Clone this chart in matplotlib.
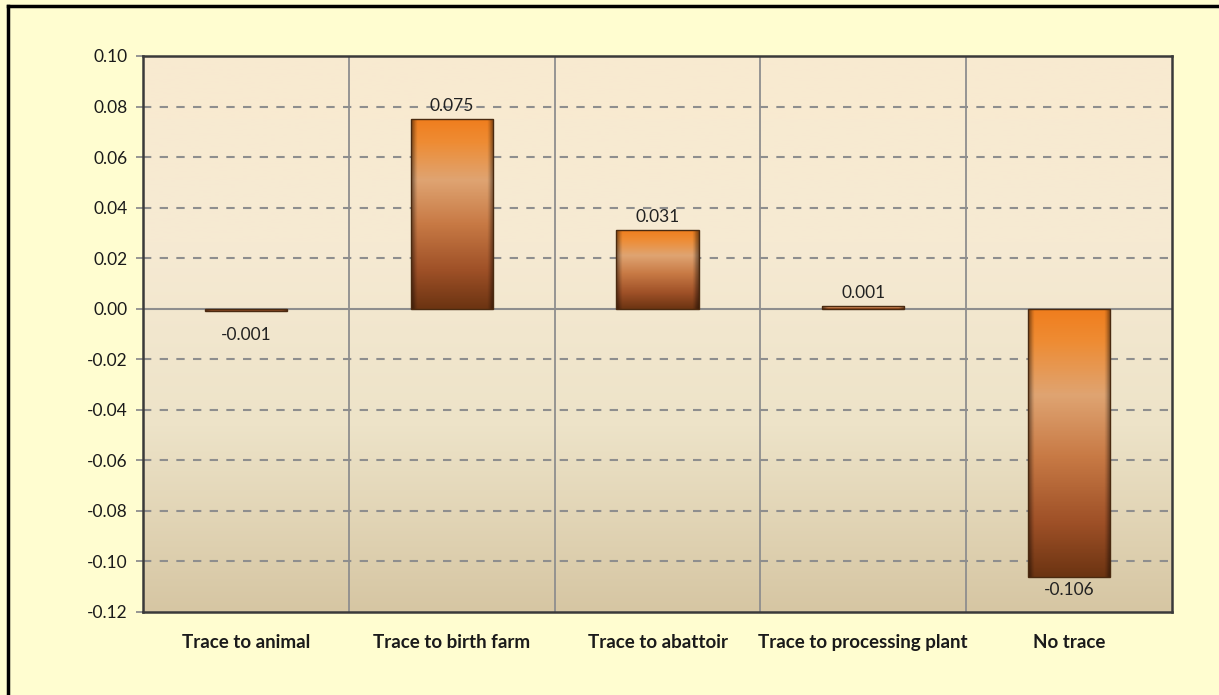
import numpy as np
import matplotlib
matplotlib.use("Agg")
import matplotlib.pyplot as plt
from matplotlib.colors import LinearSegmentedColormap
from matplotlib.lines import Line2D

categories = ["Trace to animal", "Trace to birth farm", "Trace to abattoir",
              "Trace to processing plant", "No trace"]
values = [-0.001, 0.075, 0.031, 0.001, -0.106]
value_labels = ["-0.001", "0.075", "0.031", "0.001", "-0.106"]
yticks = [-0.12, -0.10, -0.08, -0.06, -0.04, -0.02, 0.00, 0.02, 0.04, 0.06, 0.08, 0.10]

plt.rcParams['font.family'] = ['Lato', 'DejaVu Sans']

fig = plt.figure(figsize=(12.19, 6.95), dpi=100)
fig.patch.set_facecolor("#FFFDD0")
ax = fig.add_axes([143/1219, 1 - 612/695, (1172 - 143)/1219, (612 - 56)/695])
ax.set_facecolor("none")

# figure border (top & left visible)
fig.add_artist(Line2D([8/1219, 8/1219], [0, 1 - 6/695], transform=fig.transFigure,
                      color="black", lw=2.5))
fig.add_artist(Line2D([8/1219, 1], [1 - 6/695, 1 - 6/695], transform=fig.transFigure,
                      color="black", lw=2.5))

# axes background gradient
bg = LinearSegmentedColormap.from_list("bg", ["#D6C6A3", "#EDE3C8", "#F6EAD3", "#F9EAD0"])
grad = np.linspace(0, 1, 256).reshape(-1, 1)
ax.imshow(grad, extent=[0, 1, 0, 1], transform=ax.transAxes, cmap=bg,
          origin="lower", aspect="auto", zorder=0)

x = np.arange(len(categories))
ax.set_xlim(-0.5, len(categories) - 0.5)
ax.set_ylim(-0.12, 0.10)

# gridlines
for t in yticks:
    if abs(t) < 1e-9:
        ax.axhline(0, color="#8E8E8E", lw=1.5, zorder=1)
    elif -0.12 < t < 0.10:
        ax.axhline(t, color="#8E8E8E", lw=1.5, ls=(0, (4, 4)), zorder=1)
for b in np.arange(0.5, len(categories) - 0.5, 1):
    ax.axvline(b, color="#8E8E8E", lw=1.3, zorder=1)

# bars with gradient fill
bar_cmap = LinearSegmentedColormap.from_list(
    "bar", [(0.0, "#F07E1E"), (0.12, "#EE8C34"), (0.32, "#DFA472"),
            (0.55, "#C87A45"), (0.8, "#9E5027"), (1.0, "#6C3412")])
ny, nx = 200, 60
vy = np.linspace(0, 1, ny).reshape(-1, 1)
base = bar_cmap(np.repeat(vy, nx, axis=1))[..., :3]
hx = np.linspace(0, 1, nx)
edge = np.clip(np.minimum(hx, 1 - hx) / 0.07, 0, 1)
shade = 0.55 + 0.45 * edge
img = base * shade.reshape(1, -1, 1)
img = np.clip(img, 0, 1)

bars = ax.bar(x, values, width=0.4, facecolor="none", edgecolor="none", zorder=3)
for bar in bars:
    x0 = bar.get_x()
    w = bar.get_width()
    y0 = bar.get_y()
    h = bar.get_height()
    top, bottom = max(y0, y0 + h), min(y0, y0 + h)
    if top - bottom < 0.0008:
        col = "#B07A55" if h > 0 else "#9A9080"
        ax.add_patch(plt.Rectangle((x0, bottom), w, max(top - bottom, 0.0004),
                                   facecolor=col, edgecolor="none", zorder=3))
        continue
    im = ax.imshow(img, extent=[x0, x0 + w, bottom, top], origin="upper",
                   aspect="auto", zorder=3)
    im.set_clip_path(bar)
    ax.add_patch(plt.Rectangle((x0, bottom), w, top - bottom, facecolor="none",
                               edgecolor="#4A2A10", lw=1.0, zorder=4))

ax.set_xlim(-0.5, len(categories) - 0.5)
ax.set_ylim(-0.12, 0.10)

for xi, v, lab in zip(x, values, value_labels):
    if v >= 0:
        ax.annotate(lab, (xi, v), xytext=(0, 4), textcoords="offset points",
                    ha="center", va="bottom", fontsize=12.5, color="#222222", zorder=5)
    else:
        ax.annotate(lab, (xi, v), xytext=(0, -4 if v < -0.01 else -11),
                    textcoords="offset points", ha="center", va="top",
                    fontsize=12.5, color="#222222", zorder=5)

ax.set_yticks(yticks)
ax.set_yticklabels([f"{t:.2f}" for t in yticks], fontsize=12.5, color="#1A1A1A")
ax.set_xticks(x)
ax.set_xticklabels(categories, fontsize=13.5, fontweight="bold", color="#1A1A1A")
ax.tick_params(axis="x", length=0, pad=16)
ax.tick_params(axis="y", length=5, width=1.3, color="#8E8E8E", pad=6)

for s in ax.spines.values():
    s.set_color("#3A3A3A")
    s.set_linewidth(1.8)
    s.set_zorder(6)

fig.savefig("out.png", dpi=100, facecolor=fig.get_facecolor())
